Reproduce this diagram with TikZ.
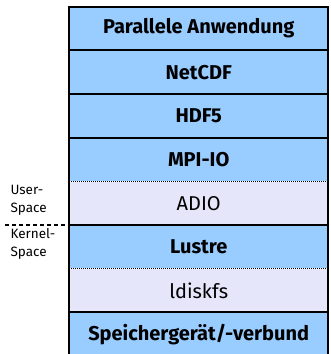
\documentclass[tikz,border=0pt]{standalone}
\usepackage{fontspec}
\setmainfont{Fira Sans}
\definecolor{lblue}{HTML}{99CCFF}
\definecolor{lav}{HTML}{E6E6FA}
\begin{document}
\begin{tikzpicture}[x=1pt,y=-1pt,
  layer/.style={minimum width=259pt,minimum height=43.25pt,inner sep=0pt,anchor=north west,font=\fontsize{20}{22}\selectfont},
  blue/.style={layer,fill=lblue},
  lavl/.style={layer,fill=lav},
  sep/.style={line width=2pt},
  dsep/.style={line width=0.9pt,dash pattern=on 1pt off 1pt},
  side/.style={font=\fontsize{13.5}{18}\selectfont,align=left,anchor=west}]
\useasboundingbox (0,0) rectangle (330,354);
\node[blue] (app) at (69,6.7) {\bfseries Parallele Anwendung};
\node[blue] (net) at (app.south west) {\bfseries NetCDF};
\node[blue] (hdf) at (net.south west) {\bfseries HDF5};
\node[blue] (mpi) at (hdf.south west) {\bfseries MPI-IO};
\node[lavl] (adio) at (mpi.south west) {ADIO};
\node[blue] (lus) at (adio.south west) {\bfseries Lustre};
\node[lavl] (ldisk) at (lus.south west) {ldiskfs};
\node[blue] (spei) at (ldisk.south west) {\bfseries Speichergerät/-verbund};
\draw[sep] (app.south west) -- (app.south east);
\draw[sep] (net.south west) -- (net.south east);
\draw[sep] (hdf.south west) -- (hdf.south east);
\draw[dsep] (mpi.south west) -- (mpi.south east);
\draw[sep] (adio.south west) -- (adio.south east);
\draw[dsep] (lus.south west) -- (lus.south east);
\draw[sep] (ldisk.south west) -- (ldisk.south east);
\draw[sep] (app.north west) rectangle (spei.south east);
\coordinate (dl) at (5,0 |- adio.south west);
\draw[line width=1.4pt,dash pattern=on 4pt off 3pt] (dl) -- (adio.south west);
\node[side,anchor=south west] (user) at (7,219) {User-\\Space};
\node[side,anchor=north west] (kern) at (7,225) {Kernel-\\Space};
\end{tikzpicture}
\end{document}
